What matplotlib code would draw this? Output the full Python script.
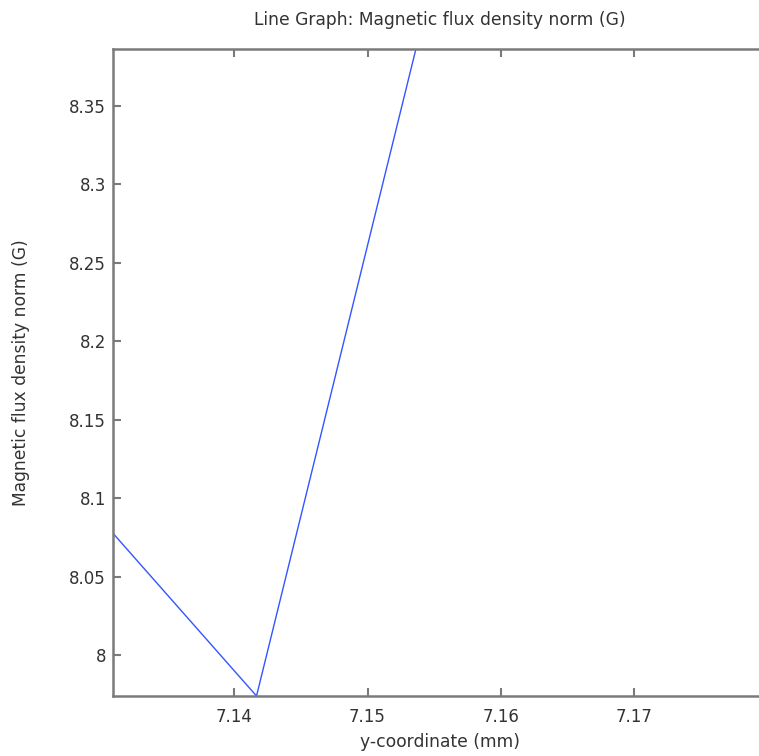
import matplotlib.pyplot as plt

# data
y_coord = [7.1309, 7.14168, 7.15363]
b_norm = [8.0778, 7.9739, 8.3863]

x_ticks = [7.14, 7.15, 7.16, 7.17]
y_ticks = [8.0, 8.05, 8.1, 8.15, 8.2, 8.25, 8.3, 8.35]
y_ticklabels = ["8", "8.05", "8.1", "8.15", "8.2", "8.25", "8.3", "8.35"]

plt.rcParams["font.family"] = "DejaVu Sans"
text_col = "#333333"
spine_col = "#7a7a7a"

fig = plt.figure(figsize=(7.59, 7.56), dpi=100)
ax = fig.add_axes([113 / 759, 1 - 696 / 756, (767 - 113) / 759, (696 - 49) / 756])

ax.plot(y_coord, b_norm, color="#3355ff", linewidth=1.0)

ax.set_xlim(7.13092, 7.17995)
ax.set_ylim(7.9739, 8.3863)
ax.set_xticks(x_ticks)
ax.set_xticklabels([f"{v:g}" for v in x_ticks])
ax.set_yticks(y_ticks)
ax.set_yticklabels(y_ticklabels)

for s in ax.spines.values():
    s.set_color(spine_col)
    s.set_linewidth(1.8)
ax.tick_params(direction="in", length=6, width=1.5, color=spine_col,
               top=True, right=True, labelsize=12, labelcolor=text_col)
ax.tick_params(axis="x", pad=9)
ax.tick_params(axis="y", pad=5)

ax.set_title("Line Graph: Magnetic flux density norm (G)", fontsize=12.3,
             color=text_col, pad=17)
ax.set_xlabel("y-coordinate (mm)", fontsize=12.3, color=text_col, labelpad=5)
ax.set_ylabel("Magnetic flux density norm (G)", fontsize=12.3, color=text_col,
              labelpad=28)

fig.savefig("out.png", dpi=100)
